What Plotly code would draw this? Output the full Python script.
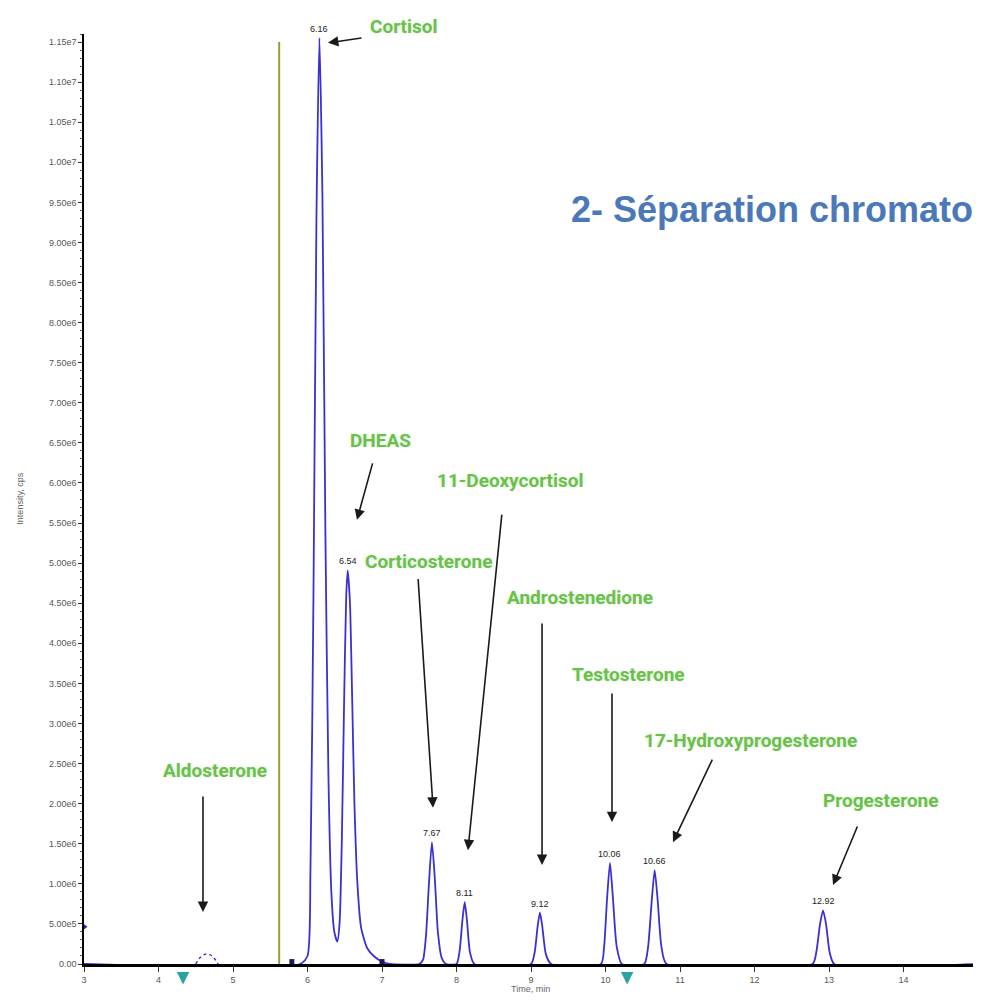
import plotly.graph_objects as go

# ---------------- data ----------------
# chromatogram trace (time in min, intensity in cps)
trace_time = [3.00, 5.90,
              6.00, 6.04, 6.08, 6.12, 6.16, 6.20, 6.24, 6.28, 6.32, 6.36, 6.40,
              6.43, 6.46, 6.49, 6.52, 6.54, 6.57, 6.60, 6.63, 6.67, 6.72, 6.80, 6.90, 7.00, 7.10,
              7.50, 7.55, 7.59, 7.63, 7.67, 7.71, 7.75, 7.80, 7.86,
              8.00, 8.04, 8.08, 8.11, 8.14, 8.18, 8.24,
              9.00, 9.05, 9.09, 9.12, 9.15, 9.20, 9.27,
              9.94, 9.98, 10.02, 10.06, 10.10, 10.15, 10.22,
              10.52, 10.57, 10.62, 10.66, 10.70, 10.75, 10.82,
              12.78, 12.83, 12.88, 12.92, 12.96, 13.01, 13.07,
              15.00]
trace_intensity = [0, 0,
                   0.10e6, 1.2e6, 4.6e6, 9.3e6, 11.55e6, 9.6e6, 5.4e6, 2.4e6, 0.9e6, 0.4e6, 0.28e6,
                   0.5e6, 1.5e6, 3.2e6, 4.6e6, 4.91e6, 4.5e6, 3.3e6, 2.0e6, 1.0e6, 0.45e6, 0.2e6, 0.09e6, 0.03e6, 0,
                   0, 0.05e6, 0.35e6, 1.0e6, 1.52e6, 1.05e6, 0.4e6, 0.08e6, 0,
                   0, 0.15e6, 0.55e6, 0.77e6, 0.55e6, 0.15e6, 0,
                   0, 0.15e6, 0.48e6, 0.64e6, 0.48e6, 0.12e6, 0,
                   0, 0.2e6, 0.8e6, 1.26e6, 0.82e6, 0.22e6, 0,
                   0, 0.2e6, 0.78e6, 1.17e6, 0.8e6, 0.22e6, 0,
                   0, 0.15e6, 0.5e6, 0.67e6, 0.5e6, 0.14e6, 0,
                   0]

# small aldosterone bump (dashed)
aldo_time = [4.50, 4.56, 4.62, 4.68, 4.74, 4.80]
aldo_intensity = [0, 0.08e6, 0.12e6, 0.12e6, 0.08e6, 0]

# retention-time labels on peaks
peak_rt = [6.16, 6.54, 7.67, 8.11, 9.12, 10.06, 10.66, 12.92]
peak_height = [11.55e6, 4.91e6, 1.52e6, 0.77e6, 0.64e6, 1.26e6, 1.17e6, 0.67e6]
peak_rt_text = ["6.16", "6.54", "7.67", "8.11", "9.12", "10.06", "10.66", "12.92"]

# integration marks on baseline
mark_time = [5.79, 7.00]
mark_intensity = [0.03e6, 0.03e6]

# vertical marker line (time)
marker_time = 5.62
marker_top = 1.15e7

# compound names with arrow tips (time, intensity)
compounds = ["Cortisol", "DHEAS", "11-Deoxycortisol", "Corticosterone", "Androstenedione",
             "Testosterone", "17-Hydroxyprogesterone", "Progesterone", "Aldosterone"]
tip_time = [6.275, 6.664, 8.154, 7.685, 9.148, 10.087, 10.906, 13.054, 4.597]
tip_intensity = [11.49e6, 5.54e6, 1.42e6, 1.95e6, 1.235e6, 1.77e6, 1.52e6, 0.985e6, 0.65e6]

# axis ticks
x_ticks = [3, 4, 5, 6, 7, 8, 9, 10, 11, 12, 13, 14, 15]
x_tick_text = ["3", "4", "5", "6", "7", "8", "9", "10", "11", "12", "13", "14", "15"]
y_ticks = [0, 0.5e6, 1.0e6, 1.5e6, 2.0e6, 2.5e6, 3.0e6, 3.5e6, 4.0e6, 4.5e6, 5.0e6, 5.5e6,
           6.0e6, 6.5e6, 7.0e6, 7.5e6, 8.0e6, 8.5e6, 9.0e6, 9.5e6, 10.0e6, 10.5e6, 11.0e6, 11.5e6]
y_tick_text = ["0.00", "5.00e5", "1.00e6", "1.50e6", "2.00e6", "2.50e6", "3.00e6", "3.50e6",
               "4.00e6", "4.50e6", "5.00e6", "5.50e6", "6.00e6", "6.50e6", "7.00e6", "7.50e6",
               "8.00e6", "8.50e6", "9.00e6", "9.50e6", "1.00e7", "1.05e7", "1.10e7", "1.15e7"]

# teal arrows under the x axis (time)
window_marks = [4.33, 10.29]

# ---------------- layout config ----------------
# text label centres (paper coords) and arrow tail offsets in px
label_pos = [(0.358, 1.0086), (0.3322, 0.5634), (0.4776, 0.5204), (0.3848, 0.4323),
             (0.5548, 0.3946), (0.6096, 0.3108), (0.745, 0.2398), (0.8915, 0.1753),
             (0.1465, 0.2086)]
arrow_tail = [(35, -5), (16, -58), (34, -337), (-15, -230), (0, -243), (0, -130),
              (40, -84), (25, -60), (0, -117)]

GREEN = "#6cbf4e"
TRACE = "#3b2fd6"
LABEL_FONT = "Roboto, Liberation Sans, sans-serif"

fig = go.Figure()

fig.add_trace(go.Scatter(x=trace_time, y=trace_intensity, mode="lines",
                         line=dict(color=TRACE, width=1.8, shape="spline", smoothing=0.6),
                         hoverinfo="skip", showlegend=False))
fig.add_trace(go.Scatter(x=aldo_time, y=aldo_intensity, mode="lines",
                         line=dict(color=TRACE, width=1.4, dash="dot", shape="spline"),
                         hoverinfo="skip", showlegend=False))
fig.add_trace(go.Scatter(x=mark_time, y=mark_intensity, mode="markers",
                         marker=dict(color="#1a1a5a", size=5, symbol="square"),
                         cliponaxis=False, hoverinfo="skip", showlegend=False))
fig.add_trace(go.Scatter(x=[x_ticks[0]], y=[y_ticks[1] * 0.93], mode="markers",
                         marker=dict(color="#2a2aa0", size=7, symbol="triangle-right"),
                         cliponaxis=False, hoverinfo="skip", showlegend=False))

fig.add_shape(type="line", xref="x", yref="y", x0=marker_time, x1=marker_time,
              y0=0, y1=marker_top, line=dict(color="#9c9c2e", width=2))

# retention-time labels
for rt, h, t in zip(peak_rt, peak_height, peak_rt_text):
    fig.add_annotation(x=rt, y=h, text=t, showarrow=False, yshift=9,
                       font=dict(family="Liberation Sans, Arial", size=9, color="#222"))

# compound labels + arrows
for name, tx, ty, (lx, ly), (ax, ay) in zip(compounds, tip_time, tip_intensity, label_pos, arrow_tail):
    fig.add_annotation(x=tx, y=ty, text="", showarrow=True, ax=ax, ay=ay,
                       arrowhead=2, arrowsize=1.3, arrowwidth=1.6, arrowcolor="#1a1a1a")
    fig.add_annotation(xref="paper", yref="paper", x=lx, y=ly, xanchor="center",
                       yanchor="middle", text="<b>" + name + "</b>", showarrow=False,
                       font=dict(family=LABEL_FONT, size=19, color=GREEN,
                                 shadow="0px 0px 3px #d6f2cc"))

# teal arrows under the axis
for wt in window_marks:
    fig.add_annotation(x=wt, y=-0.022, xref="x", yref="paper", text="", showarrow=True,
                       ax=0, ay=-14, arrowhead=2, arrowsize=1, arrowwidth=2.5,
                       arrowcolor="#2aa3a3")

# slide title (cut at the right edge as in the source)
fig.add_annotation(xref="paper", yref="paper", x=0.5425, y=0.811, xanchor="left",
                   yanchor="middle", text="<b>2- Séparation chromato</b>", showarrow=False,
                   font=dict(family="Liberation Sans, Arial", size=36, color="#4a78b8"))

# axis titles
fig.add_annotation(xref="paper", yref="paper", x=-0.072, y=0.5, xanchor="center",
                   yanchor="middle", text="Intensity, cps", textangle=-90, showarrow=False,
                   font=dict(family="Liberation Sans, Arial", size=9, color="#666"))
fig.add_annotation(xref="paper", yref="paper", x=0.499, y=-0.027, xanchor="center",
                   yanchor="middle", text="Time, min", showarrow=False,
                   font=dict(family="Liberation Sans, Arial", size=9, color="#666"))

fig.update_layout(
    width=973, height=990,
    margin=dict(l=76, r=3, t=26, b=34),
    paper_bgcolor="white", plot_bgcolor="white",
    showlegend=False,
    xaxis=dict(range=[3, 15], tickvals=x_ticks, ticktext=x_tick_text,
               showgrid=False, zeroline=False, showline=True, linecolor="black", linewidth=2.5,
               ticks="outside", ticklen=5, tickcolor="#333",
               tickfont=dict(family="Liberation Sans, Arial", size=9, color="#555")),
    yaxis=dict(range=[0, 1.16e7], tickvals=y_ticks, ticktext=y_tick_text,
               showgrid=False, zeroline=False, showline=True, linecolor="black", linewidth=1.5,
               ticks="outside", ticklen=4, tickcolor="#333",
               minor=dict(ticks="outside", ticklen=2, dtick=1e5, tickcolor="#555"),
               tickfont=dict(family="Liberation Sans, Arial", size=9, color="#555")),
)

fig.write_html("out.html")
